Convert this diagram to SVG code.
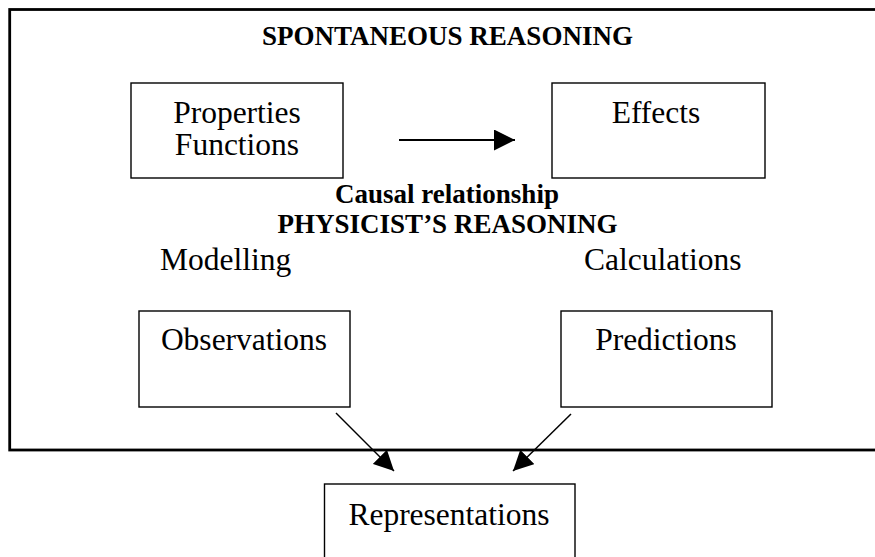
<svg xmlns="http://www.w3.org/2000/svg" width="875" height="557" viewBox="0 0 875 557">
  <style>
    .box { fill: #fff; stroke: #000; stroke-width: 1.4; }
    .frame { fill: none; stroke: #000; stroke-width: 2.8; }
    .lbl { font-family: "Liberation Serif", "Times New Roman", serif; font-size: 31.5px; fill: #000; }
    .head { font-family: "Liberation Serif", "Times New Roman", serif; font-size: 27px; font-weight: bold; fill: #000; text-anchor: middle; }
    .mid { text-anchor: middle; }
    .conn { stroke: #000; fill: none; }
  </style>
  <defs>
    <marker id="tri" viewBox="0 0 21 21" refX="21" refY="10.5" markerWidth="21" markerHeight="21" markerUnits="userSpaceOnUse" orient="auto">
      <path d="M0,0 L21,10.5 L0,21 Z" fill="#000"/>
    </marker>
    <marker id="tri2" viewBox="0 0 20 20" refX="20" refY="10" markerWidth="20" markerHeight="20" markerUnits="userSpaceOnUse" orient="auto">
      <path d="M0,0 L20,10 L0,20 Z" fill="#000"/>
    </marker>
  </defs>

  <!-- outer frame (open to the right edge) -->
  <rect class="frame" x="9.7" y="9.5" width="880" height="440.5"/>

  <text class="head" x="447.5" y="45">SPONTANEOUS REASONING</text>

  <g id="properties">
    <rect class="box" x="131" y="83" width="212" height="95"/>
    <text class="lbl mid" x="237" y="123">Properties</text>
    <text class="lbl mid" x="237" y="155">Functions</text>
  </g>

  <g id="effects">
    <rect class="box" x="552" y="83" width="213" height="95"/>
    <text class="lbl mid" x="656" y="123">Effects</text>
  </g>

  <text class="head" x="447" y="203" font-size="26">Causal relationship</text>
  <text class="head" x="447.5" y="233">PHYSICIST’S REASONING</text>

  <text class="lbl" x="160" y="270">Modelling</text>
  <text class="lbl" x="584" y="270">Calculations</text>

  <g id="observations">
    <rect class="box" x="139" y="311" width="211" height="96"/>
    <text class="lbl mid" x="244" y="350">Observations</text>
  </g>

  <g id="predictions">
    <rect class="box" x="561" y="311" width="211" height="96"/>
    <text class="lbl mid" x="666" y="350">Predictions</text>
  </g>

  <g id="representations">
    <rect class="box" x="324.5" y="484" width="250.5" height="90"/>
    <text class="lbl mid" x="449" y="525">Representations</text>
  </g>

  <g id="connectors">
    <line class="conn" x1="399" y1="140" x2="515" y2="140" stroke-width="2.2" marker-end="url(#tri)"/>
    <line class="conn" x1="336" y1="413" x2="394" y2="471" stroke-width="1.5" marker-end="url(#tri2)"/>
    <line class="conn" x1="571" y1="414" x2="513" y2="471" stroke-width="1.5" marker-end="url(#tri2)"/>
  </g>
</svg>
